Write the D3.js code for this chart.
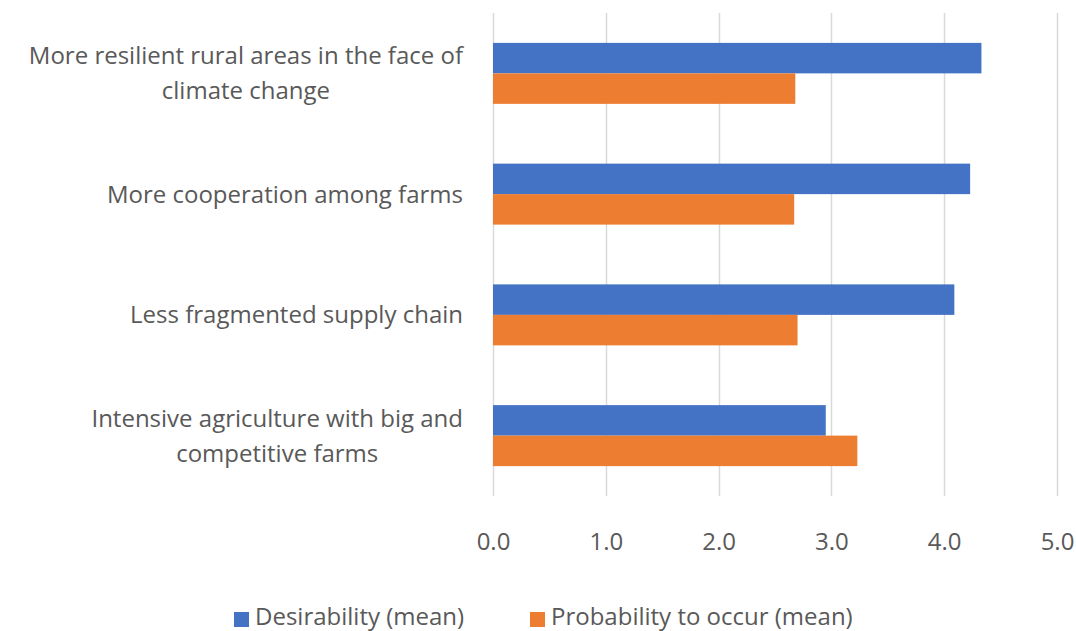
<!DOCTYPE html>
<html>
<head>
<meta charset="utf-8">
<script src="https://cdn.jsdelivr.net/npm/d3@7"></script>
<style>
  body { margin: 0; background: #fff; }
  svg text { font-family: "Open Sans", sans-serif; fill: #595959; }
</style>
</head>
<body>
<svg id="chart" width="1076" height="631"></svg>
<script>
// chart data
var categories = [
    "More resilient rural areas in the face of climate change",
    "More cooperation among farms",
    "Less fragmented supply chain",
    "Intensive agriculture with big and competitive farms"
];
var seriesNames = ["Desirability (mean)", "Probability to occur (mean)"];
var desirability = [4.33, 4.23, 4.09, 2.95];
var probability = [2.68, 2.67, 2.70, 3.23];
var tickValues = [0, 1, 2, 3, 4, 5];
var colors = ["#4472c4", "#ed7d31"];

var svg = d3.select("#chart");

var margin = {top: 13, left: 493, right: 19, bottom: 135};
var width = 1076 - margin.left - margin.right,
    height = 631 - margin.top - margin.bottom;

var x = d3.scaleLinear().domain([0, 5]).range([0, width]);

var y = d3.scaleBand()
    .domain(categories)
    .range([0, height])
    .paddingInner(0.495)
    .paddingOuter(0.2475);

var ySub = d3.scaleBand()
    .domain(seriesNames)
    .range([0, y.bandwidth()]);

var g = svg.append("g")
    .attr("transform", "translate(" + margin.left + "," + margin.top + ")");

// gridlines
g.append("g")
    .selectAll("line")
    .data(tickValues)
    .enter().append("line")
    .attr("x1", function (d) { return Math.round(x(d)) + 0.5; })
    .attr("x2", function (d) { return Math.round(x(d)) + 0.5; })
    .attr("y1", 0)
    .attr("y2", height)
    .attr("stroke", "#d9d9d9")
    .attr("stroke-width", 1.5);

// tick labels
var xAxis = d3.axisBottom(x)
    .tickValues(tickValues)
    .tickFormat(d3.format(".1f"))
    .tickSize(0)
    .tickPadding(37);

var ax = g.append("g")
    .attr("transform", "translate(0," + height + ")")
    .call(xAxis);
ax.select(".domain").remove();
ax.selectAll("text")
    .style("font-size", "24px")
    .style("font-family", "'Open Sans', sans-serif")
    .attr("fill", "#595959");

// bars
var rows = categories.map(function (c, i) {
    return {cat: c, values: [desirability[i], probability[i]]};
});

var grp = g.selectAll(".grp")
    .data(rows)
    .enter().append("g")
    .attr("class", "grp")
    .attr("transform", function (d) { return "translate(0," + y(d.cat) + ")"; });

grp.selectAll("rect")
    .data(function (d) {
        return d.values.map(function (v, j) { return {name: seriesNames[j], value: v, idx: j}; });
    })
    .enter().append("rect")
    .attr("x", 0)
    .attr("y", function (d) { return ySub(d.name); })
    .attr("width", function (d) { return x(d.value); })
    .attr("height", ySub.bandwidth())
    .attr("fill", function (d) { return colors[d.idx]; });

// category labels, wrapped and centred in a block right-aligned at the axis
var labelSize = 24;
var lineH = 35;
var labelRight = 463;

function wrapWords(text, maxW, measure) {
    var words = text.split(" "), lines = [], cur = "";
    words.forEach(function (w) {
        var t = cur ? cur + " " + w : w;
        if (measure(t) > maxW && cur) {
            lines.push(cur);
            cur = w;
        } else {
            cur = t;
        }
    });
    if (cur) lines.push(cur);
    return lines;
}

var probe = svg.append("text").style("font-size", labelSize + "px");
function measure(s) {
    probe.text(s);
    return probe.node().getComputedTextLength();
}

categories.forEach(function (c) {
    var lines = wrapWords(c, 455, measure);
    var maxW = d3.max(lines, measure);
    var cx = labelRight - maxW / 2;
    var cy = margin.top + y(c) + y.bandwidth() / 2;
    var t = svg.append("text")
        .attr("text-anchor", "middle")
        .style("font-size", labelSize + "px");
    lines.forEach(function (l, i) {
        t.append("tspan")
            .attr("x", cx)
            .attr("y", cy + (i - (lines.length - 1) / 2) * lineH)
            .attr("dy", "0.35em")
            .text(l);
    });
});
probe.remove();

// legend
var legendX = [234, 530];
var leg = svg.append("g");
seriesNames.forEach(function (s, i) {
    leg.append("rect")
        .attr("x", legendX[i])
        .attr("y", 612)
        .attr("width", 15)
        .attr("height", 15)
        .attr("fill", colors[i]);
    leg.append("text")
        .attr("x", legendX[i] + 21)
        .attr("y", 617)
        .attr("dy", "0.35em")
        .style("font-size", "24px")
        .text(s);
});
</script>
</body>
</html>
